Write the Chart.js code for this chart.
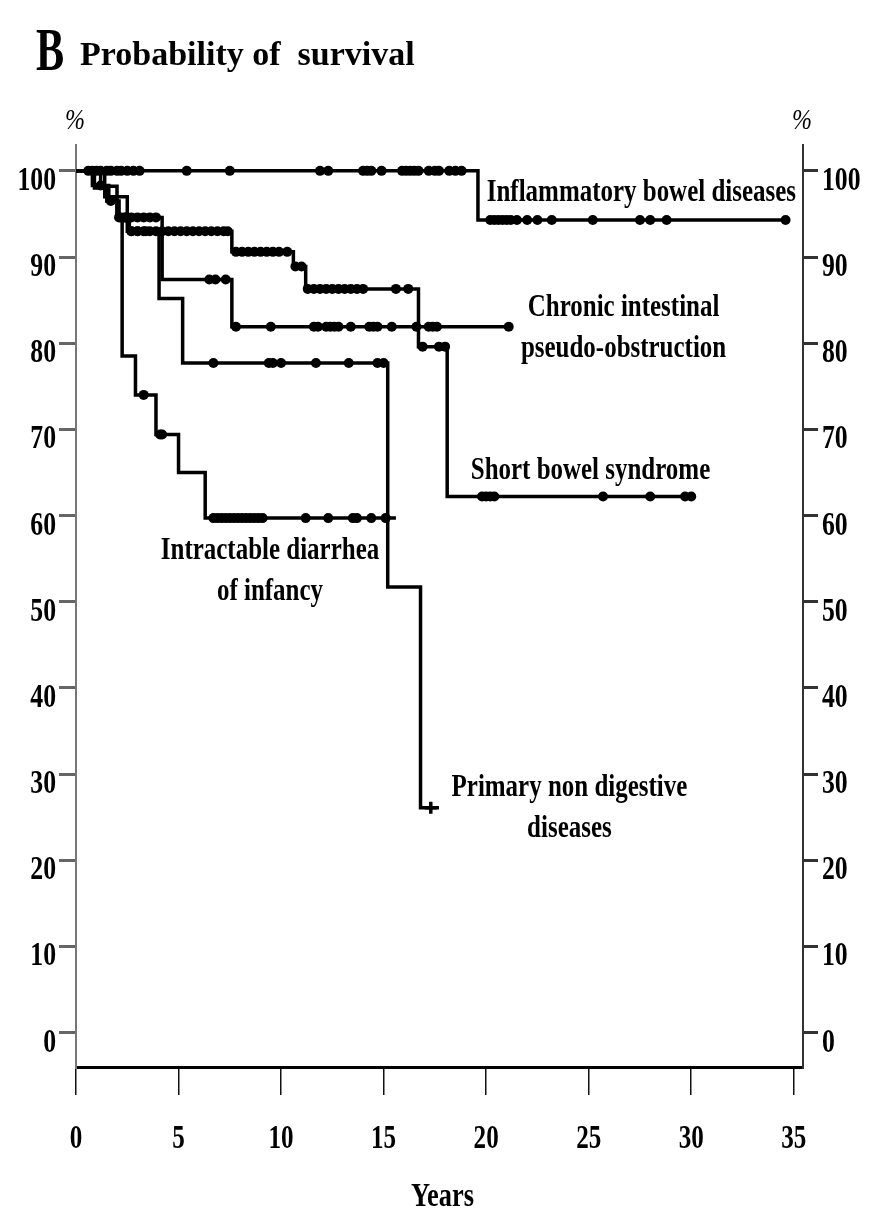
<!DOCTYPE html>
<html>
<head>
<meta charset="utf-8">
<title>Probability of survival</title>
<script src="https://cdn.jsdelivr.net/npm/chart.js@4.4.1/dist/chart.umd.min.js"></script>
<style>
  html, body { margin: 0; padding: 0; background: #fff; }
  #wrap { width: 874px; height: 1210px; position: relative; }
</style>
</head>
<body>
<div id="wrap"><canvas id="survivalChart" width="874" height="1210"></canvas></div>
<script>
// ---- axis ticks ----
const xTickValues = [0, 5, 10, 15, 20, 25, 30, 35];
const yTickValues = [0, 10, 20, 30, 40, 50, 60, 70, 80, 90, 100];

// ---- Kaplan-Meier steps: event times (years) and survival after each step (%) ----
// Inflammatory bowel diseases
const ibdTimes = [0, 19.6, 34.7];
const ibdSurvival = [100, 94.3, 94.3];
const ibdCensored = [0.6, 0.8, 1.0, 1.2, 1.5, 1.7, 2.0, 2.2, 2.5, 2.8, 3.1, 5.4, 7.5,
  11.9, 12.3, 14.0, 14.2, 14.4, 14.9, 15.9, 16.1, 16.3, 16.5, 16.7, 17.2, 17.5, 17.7,
  18.2, 18.5, 18.8, 20.2, 20.4, 20.6, 20.8, 21.0, 21.2, 21.5, 22.0, 22.5, 23.2, 25.2,
  27.5, 28.0, 28.8, 34.6];

// Chronic intestinal pseudo-obstruction
const cipoTimes = [0, 1.2, 2.0, 4.2, 7.6, 21.2];
const cipoSurvival = [100, 98.2, 94.6, 87.4, 81.9, 81.9];
const cipoCensored = [2.1, 2.4, 2.7, 3.0, 3.3, 3.6, 3.9, 6.5, 6.8, 7.3, 7.8, 9.5, 11.6,
  11.8, 12.2, 12.4, 12.6, 12.8, 13.4, 14.3, 14.5, 14.7, 15.4, 16.6, 17.2, 17.4, 17.6, 21.1];

// Short bowel syndrome
const sbsTimes = [0, 0.9, 1.5, 2.1, 2.6, 7.6, 10.6, 11.2, 16.7, 18.1, 30.1];
const sbsSurvival = [100, 98.0, 96.5, 94.6, 93.0, 90.6, 88.9, 86.3, 79.6, 62.2, 62.2];
const sbsCensored = [1.7, 2.2, 2.4, 2.7, 3.0, 3.3, 3.6, 3.9, 4.2, 4.5, 4.8, 5.1, 5.4, 5.7,
  6.0, 6.3, 6.6, 6.9, 7.2, 7.4, 7.8, 8.1, 8.4, 8.7, 9.0, 9.3, 9.6, 9.9, 10.3, 10.7, 11.0,
  11.3, 11.6, 11.9, 12.2, 12.5, 12.8, 13.1, 13.4, 13.7, 14.0, 15.6, 16.2, 16.9, 17.7,
  18.0, 19.8, 20.0, 20.2, 20.4, 25.7, 28.0, 29.7, 30.0];

// Intractable diarrhea of infancy
const idiTimes = [0, 0.8, 1.6, 2.0, 2.25, 2.9, 3.9, 5.0, 6.3, 15.6];
const idiSurvival = [100, 98.3, 96.6, 94.8, 78.5, 74.0, 69.4, 65.0, 59.7, 59.7];
const idiCensored = [1.2, 3.3, 4.1, 4.2, 6.7, 6.9, 7.1, 7.3, 7.5, 7.7, 7.9, 8.1, 8.3,
  8.5, 8.7, 8.9, 9.1, 11.2, 12.3, 13.5, 13.7, 14.4, 15.1];

// Primary non digestive diseases
const pndTimes = [0, 1.4, 2.5, 4.05, 5.2, 15.2, 16.8, 17.7];
const pndSurvival = [100, 97.0, 93.0, 85.2, 77.7, 51.7, 26.1, 26.1];
const pndCensored = [2.7, 3.0, 3.4, 6.7, 9.4, 9.6, 10.0, 11.7, 13.3, 14.7, 15.0];
const pndCrossed = [17.3];

// survival level of a step curve at time t
function levelAt(times, survival, t) {
  let v = survival[0];
  for (let i = 0; i < times.length; i++) {
    if (times[i] <= t) v = survival[i];
  }
  return v;
}

const curves = [
  { times: ibdTimes, survival: ibdSurvival, censored: ibdCensored },
  { times: cipoTimes, survival: cipoSurvival, censored: cipoCensored },
  { times: sbsTimes, survival: sbsSurvival, censored: sbsCensored },
  { times: idiTimes, survival: idiSurvival, censored: idiCensored },
  { times: pndTimes, survival: pndSurvival, censored: pndCensored }
];

const datasets = [];
curves.forEach(c => {
  datasets.push({
    type: 'line',
    data: c.times.map((t, i) => ({ x: t, y: c.survival[i] })),
    stepped: 'before',
    borderColor: '#000',
    borderWidth: 3.5,
    borderJoinStyle: 'miter',
    pointRadius: 0,
    fill: false
  });
  datasets.push({
    type: 'scatter',
    data: c.censored.map(t => ({ x: t, y: levelAt(c.times, c.survival, t) })),
    pointStyle: 'circle',
    pointRadius: 5,
    pointBackgroundColor: '#000',
    pointBorderWidth: 0
  });
});
datasets.push({
  type: 'scatter',
  data: pndCrossed.map(t => ({ x: t, y: levelAt(pndTimes, pndSurvival, t) })),
  pointStyle: 'cross',
  pointRadius: 6,
  pointBorderColor: '#000',
  pointBorderWidth: 3.5
});

// curve captions, anchored in data units
const captions = [
  { lines: ['Inflammatory bowel diseases'], x: 20.03, y: 96.5, align: 'left' },
  { lines: ['Chronic intestinal', 'pseudo-obstruction'], x: 26.7, y: 83.2, align: 'center' },
  { lines: ['Short bowel syndrome'], x: 19.25, y: 64.2, align: 'left' },
  { lines: ['Intractable diarrhea', 'of infancy'], x: 9.46, y: 54.9, align: 'center' },
  { lines: ['Primary non digestive', 'diseases'], x: 24.06, y: 27.4, align: 'center' }
];

const SERIF = '"Liberation Serif", "Times New Roman", serif';

// narrow bold serif text, squeezed horizontally
function squeezedText(ctx, text, x, y, size, squeeze, align, weight) {
  ctx.save();
  ctx.font = `${weight || 'bold'} ${size}px ${SERIF}`;
  const w = ctx.measureText(text).width * squeeze;
  let left = x;
  if (align === 'center') left = x - w / 2;
  else if (align === 'right') left = x - w;
  ctx.translate(left, y);
  ctx.scale(squeeze, 1);
  ctx.textAlign = 'left';
  ctx.textBaseline = 'alphabetic';
  ctx.fillStyle = '#000';
  ctx.fillText(text, 0, 0);
  ctx.restore();
}

const textPlugin = {
  id: 'survivalText',
  afterDraw(chart) {
    const ctx = chart.ctx;
    const xs = chart.scales.x, ys = chart.scales.y, ys2 = chart.scales.y2;

    // heading
    squeezedText(ctx, 'B', 36, 70, 62, 0.68, 'left');
    squeezedText(ctx, 'Probability of  survival', 80, 65, 34, 1, 'left');

    // unit marks above both axes
    squeezedText(ctx, '%', xs.left - 1, 129, 30, 0.8, 'center', 'italic');
    squeezedText(ctx, '%', ys2.left - 1, 129, 30, 0.8, 'center', 'italic');

    // tick labels
    ys.ticks.forEach(t => {
      const py = ys.getPixelForValue(t.value);
      squeezedText(ctx, String(t.value), ys.right - 20, py + 19, 33, 0.78, 'right');
    });
    ys2.ticks.forEach(t => {
      const py = ys2.getPixelForValue(t.value);
      squeezedText(ctx, String(t.value), ys2.left + 19, py + 19, 33, 0.78, 'left');
    });
    xs.ticks.forEach(t => {
      const px = xs.getPixelForValue(t.value);
      squeezedText(ctx, String(t.value), px, xs.top + 81, 33, 0.76, 'center');
    });

    // axis title
    squeezedText(ctx, 'Years', (xs.left + xs.right) / 2 + 3, xs.top + 139, 33, 0.8, 'center');

    // curve captions
    captions.forEach(c => {
      const px = xs.getPixelForValue(c.x);
      const py = ys.getPixelForValue(c.y);
      c.lines.forEach((line, i) => {
        squeezedText(ctx, line, px, py + i * 41, 32, 0.78, c.align);
      });
    });
  }
};

new Chart(document.getElementById('survivalChart'), {
  data: { datasets },
  options: {
    responsive: false,
    devicePixelRatio: 1,
    animation: false,
    events: [],
    layout: { padding: { top: 145, left: 0, right: 0, bottom: 0 } },
    plugins: { legend: { display: false }, tooltip: { enabled: false }, title: { display: false } },
    scales: {
      x: {
        type: 'linear',
        position: 'bottom',
        min: 0,
        max: 35.45,
        afterBuildTicks: s => { s.ticks = xTickValues.map(v => ({ value: v })); },
        afterFit: s => { s.height = 143; },
        grid: { drawOnChartArea: false, drawTicks: true, tickLength: 28, color: '#111', lineWidth: 1.5 },
        border: { display: true, color: '#000', width: 3 },
        ticks: { display: false, autoSkip: false }
      },
      y: {
        type: 'linear',
        position: 'left',
        min: -4,
        max: 103,
        afterBuildTicks: s => { s.ticks = yTickValues.map(v => ({ value: v })); },
        afterFit: s => { s.width = 76; },
        grid: { drawOnChartArea: false, drawTicks: true, tickLength: 17, color: '#666', lineWidth: 3 },
        border: { display: true, color: '#777', width: 2 },
        ticks: { display: false, autoSkip: false }
      },
      y2: {
        type: 'linear',
        position: 'right',
        min: -4,
        max: 103,
        afterBuildTicks: s => { s.ticks = yTickValues.map(v => ({ value: v })); },
        afterFit: s => { s.width = 71; },
        grid: { drawOnChartArea: false, drawTicks: true, tickLength: 15, color: '#333', lineWidth: 3 },
        border: { display: true, color: '#333', width: 2 },
        ticks: { display: false, autoSkip: false }
      }
    }
  },
  plugins: [textPlugin]
});
</script>
</body>
</html>
